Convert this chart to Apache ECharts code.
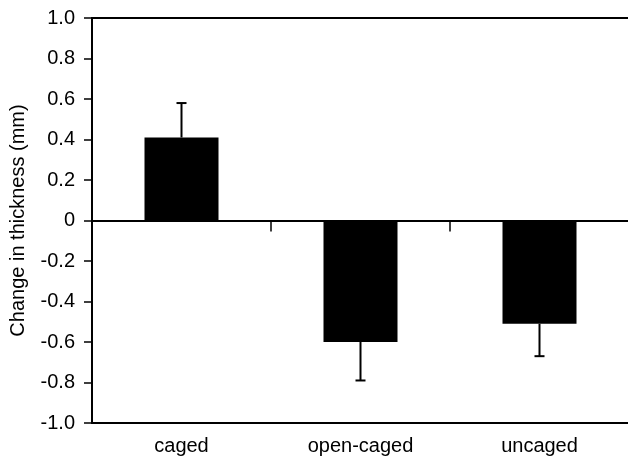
<!DOCTYPE html>
<html>
<head>
<meta charset="utf-8">
<script src="https://cdn.jsdelivr.net/npm/echarts@6/dist/echarts.min.js"></script>
<style>
  html, body { margin: 0; padding: 0; background: #fff; }
  #chart { width: 628px; height: 457px; }
</style>
</head>
<body>
<div id="chart"></div>
<script>
var categories = ['caged', 'open-caged', 'uncaged'];
var means = [0.41, -0.60, -0.51];
var errorEnds = [0.58, -0.79, -0.67];

var font = 'Liberation Sans, Arial, Helvetica, sans-serif';
var chart = echarts.init(document.getElementById('chart'));

var errorData = categories.map(function (c, i) {
    return [i, means[i], errorEnds[i]];
});

var option = {
    animation: false,
    grid: {
        left: 92,
        right: -1,
        top: 18,
        bottom: 34,
        containLabel: false,
        outerBoundsMode: 'none',
        show: true,
        borderColor: '#000',
        borderWidth: 2
    },
    xAxis: [
        {
            type: 'category',
            data: categories,
            axisLine: { onZero: true, lineStyle: { color: '#000', width: 2 } },
            axisTick: { show: true, length: 11, lineStyle: { color: '#000', width: 1.5 } },
            axisLabel: { show: false }
        },
        {
            type: 'category',
            data: categories,
            position: 'bottom',
            axisLine: { show: false, onZero: false },
            axisTick: { show: false },
            axisLabel: { color: '#000', fontSize: 20, fontFamily: font, margin: 13 }
        }
    ],
    yAxis: {
        type: 'value',
        min: -1.0,
        max: 1.0,
        interval: 0.2,
        name: 'Change in thickness (mm)',
        nameLocation: 'middle',
        nameGap: 64,
        nameTextStyle: { color: '#000', fontSize: 20, fontFamily: font },
        axisLine: { show: true, lineStyle: { color: '#000', width: 2 } },
        axisTick: { show: true, length: 8, lineStyle: { color: '#000', width: 1.5 } },
        splitLine: { show: false },
        axisLabel: {
            color: '#000',
            fontSize: 20,
            fontFamily: font,
            margin: 17,
            formatter: function (v) {
                var r = Math.round(v * 10) / 10;
                return r === 0 ? '0' : r.toFixed(1);
            }
        }
    },
    series: [
        {
            type: 'bar',
            data: means,
            barWidth: 74,
            itemStyle: { color: '#000' }
        },
        {
            type: 'custom',
            data: errorData,
            z: 5,
            renderItem: function (params, api) {
                var i = api.value(0);
                var p0 = api.coord([i, api.value(1)]);
                var p1 = api.coord([i, api.value(2)]);
                var style = { stroke: '#000', lineWidth: 2 };
                return {
                    type: 'group',
                    children: [
                        { type: 'line', shape: { x1: p0[0], y1: p0[1], x2: p1[0], y2: p1[1] }, style: style },
                        { type: 'line', shape: { x1: p1[0] - 5, y1: p1[1], x2: p1[0] + 5, y2: p1[1] }, style: style }
                    ]
                };
            }
        }
    ]
};
chart.setOption(option);
</script>
</body>
</html>
